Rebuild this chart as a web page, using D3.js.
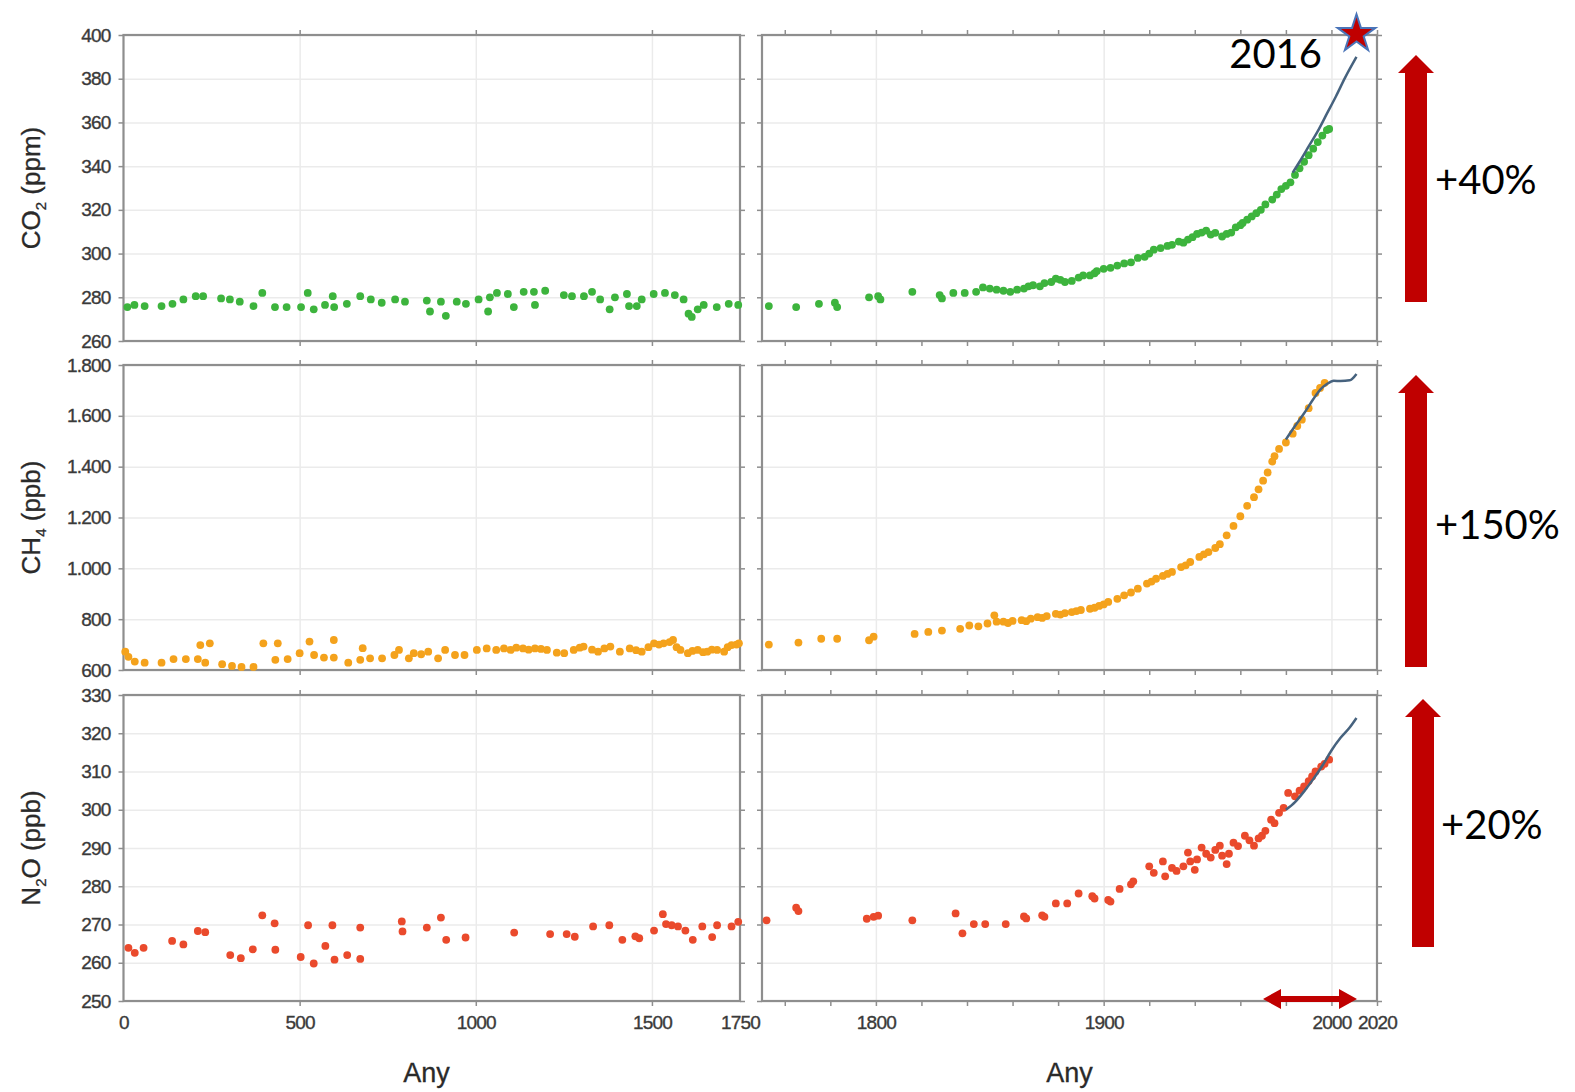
<!DOCTYPE html>
<html>
<head>
<meta charset="utf-8">
<script src="https://cdn.jsdelivr.net/npm/d3@7"></script>
<style>
  body { margin: 0; background: #fff; }
  svg text { font-family: "Liberation Sans", Arial, sans-serif; }
</style>
</head>
<body>
<div id="chart"></div>
<script>
// ---- data: [year, value] ----
var co2Old = [[11,275.5],[31,276.5],[60,276],[108,276],[139,277],[170,279],[205,280.5],[226,280.5],[277,279.5],[302,279],[330,278],[369,276],[394,282],[430,275.5],[463,275.5],[504,275.5],[523,282],[540,274.5],[572,276.5],[594,280.5],[598,275.5],[634,277],[672,280.5],[702,279],[733,277.5],[771,279],[799,278],[861,278.5],[870,273.5],[901,278],[915,271.5],[946,278],[972,277],[1008,279],[1035,273.5],[1040,280],[1060,282],[1091,281.5],[1108,275.5],[1136,282.5],[1165,282.5],[1168,276.5],[1197,283],[1250,281],[1273,280.5],[1307,280.5],[1330,282.5],[1353,279],[1380,274.5],[1395,280],[1429,281.5],[1435,276],[1457,276],[1471,279],[1505,281.5],[1537,282],[1565,281],[1590,279],[1604,272.5],[1613,271],[1630,274.5],[1647,276.5],[1684,275.5],[1718,277],[1745,276.5]];
var co2Ice = [[1753,276],[1765,275.5],[1775,277],[1782,277.5],[1783,275.5],[1797,280],[1801,280.5],[1802,279],[1816,282.5],[1828,281],[1829,279.5],[1834,282],[1839,282],[1844,282.5],[1847,284.5],[1850,284],[1853,283.5],[1856,283],[1859,282.5],[1862,283.5],[1865,284],[1867,285],[1869,285.5],[1872,285],[1874,286.5],[1877,287],[1879,288.5],[1881,288],[1883,287],[1886,287.5],[1889,289],[1891,290],[1894,290],[1896,291],[1897,292],[1900,293],[1903,293.5],[1906,294.5],[1909,295.5],[1912,296],[1915,298],[1918,298.5],[1920,300],[1922,301.8],[1925,302.5],[1928,303.5],[1930,304],[1933,305.5],[1935,305],[1937,306.4],[1939,307.5],[1941,309],[1943,309.6],[1945,310.5],[1947,308.7],[1949,309.5],[1952,307.8],[1954,309],[1956,309.6],[1958,312],[1960,313],[1961,314],[1963,315.5],[1965,317],[1967,318.5],[1969,320],[1971,322.5],[1974,324.7],[1976,327],[1978,329.5],[1980,331],[1982,332.6],[1984,336],[1986,339],[1988,342],[1990,345],[1992,348],[1994,351],[1996,354],[1998,356.5],[1999,357]];
var co2Inst = [[1983,337],[1986,342],[1990,349],[1994,356],[1998,364],[2002,372],[2006,380.5],[2011,390]];

var ch4Old = [[5,672],[14,652],[32,633],[60,629],[108,629],[142,643],[177,643],[211,643],[218,698],[232,629],[245,705],[280,623],[308,616],[335,612],[369,612],[397,705],[431,640],[438,705],[466,643],[500,666],[528,712],[541,659],[569,649],[597,718],[597,649],[638,629],[672,640],[679,686],[700,646],[734,646],[769,659],[782,679],[810,646],[824,666],[845,662],[865,672],[893,646],[913,679],[941,659],[968,659],[1003,679],[1031,685],[1058,679],[1080,685],[1099,679],[1115,688],[1134,685],[1150,680],[1168,685],[1185,683],[1202,679],[1230,668],[1251,666],[1278,679],[1295,688],[1306,692],[1330,680],[1347,672],[1365,685],[1382,692],[1409,672],[1437,685],[1455,678],[1471,672],[1490,690],[1506,705],[1520,700],[1533,705],[1550,710],[1560,718],[1570,690],[1581,679],[1602,666],[1615,675],[1630,679],[1645,670],[1657,672],[1670,680],[1685,679],[1705,672],[1715,690],[1726,698],[1740,700],[1747,705]];
var ch4Ice = [[1753,700],[1766,708],[1776,723],[1783,723],[1797,717],[1799,731],[1817,742],[1823,750],[1829,755],[1837,762],[1841,775],[1845,772],[1849,783],[1852,815],[1853,790],[1856,790],[1858,785],[1860,793],[1864,796],[1866,792],[1868,802],[1871,808],[1873,805],[1875,812],[1879,821],[1881,818],[1883,824],[1886,828],[1888,832],[1890,836],[1894,841],[1896,845],[1898,852],[1900,858],[1902,868],[1906,880],[1909,894],[1912,905],[1915,920],[1919,940],[1921,948],[1923,959],[1926,970],[1928,978],[1930,986],[1934,1005],[1936,1012],[1938,1025],[1942,1045],[1944,1055],[1946,1064],[1949,1080],[1951,1095],[1954,1130],[1957,1167],[1960,1205],[1963,1246],[1966,1280],[1968,1311],[1970,1345],[1972,1377],[1974,1420],[1975,1441],[1977,1470],[1980,1495],[1983,1530],[1985,1560],[1987,1585],[1990,1630],[1993,1690],[1995,1710],[1997,1730]];
var ch4Inst = [[1980,1507],[1984,1560],[1988,1610],[1992,1665],[1995,1702],[1998,1725],[2001,1738],[2004,1737],[2008,1740],[2011,1765]];

var n2oOld = [[14,263.9],[32,262.6],[57,263.9],[138,265.7],[170,264.8],[211,268.3],[232,268],[303,262],[333,261.2],[367,263.5],[394,272.4],[429,270.3],[431,263.4],[503,261.5],[524,269.8],[540,259.8],[573,264.4],[593,269.8],[599,260.8],[635,262],[672,269.2],[672,261],[790,270.8],[792,268.2],[861,269.2],[901,271.8],[916,266],[971,266.6],[1109,267.9],[1211,267.5],[1258,267.5],[1281,266.8],[1333,269.5],[1379,269.8],[1416,266],[1453,266.9],[1464,266.4],[1506,268.4],[1531,272.7],[1540,270.1],[1556,269.8],[1574,269.5],[1595,268.4],[1616,266],[1643,269.5],[1671,266.7],[1685,269.8],[1726,269.5],[1745,270.7]];
var n2oIce = [[1752,271.1],[1765,274.4],[1766,273.5],[1796,271.5],[1799,272],[1801,272.3],[1816,271.1],[1835,272.9],[1838,267.7],[1843,270.1],[1848,270.1],[1857,270.1],[1865,272.1],[1866,271.6],[1873,272.4],[1874,272],[1879,275.5],[1884,275.5],[1889,278.1],[1895,277.4],[1896,276.8],[1902,276.4],[1903,276],[1907,279.3],[1912,280.5],[1913,281.3],[1920,285.2],[1922,283.5],[1926,286.5],[1927,282.6],[1930,284.8],[1932,284],[1935,285.2],[1937,288.8],[1938,286.5],[1940,284.3],[1941,287],[1943,290.1],[1945,288.5],[1947,287.5],[1949,289.5],[1951,290.6],[1952,288],[1954,285.8],[1955,288.5],[1957,291.4],[1959,290.5],[1962,293.2],[1964,292],[1966,290.6],[1968,292.5],[1969.5,293.2],[1971,294.5],[1973.5,297.4],[1975,296.5],[1977,299.2],[1979,300.5],[1981,304.4],[1984,303.5],[1986,305],[1988,306.1],[1990,307.5],[1991.5,308.7],[1993,310],[1995.5,311.3],[1997,312],[1999,313.1]];
var n2oInst = [[1980,300],[1984,302],[1988,304.8],[1992,308],[1996,311.5],[2000,315.5],[2004,318.8],[2008,321.5],[2011,324]];

var co2Ticks = [260, 280, 300, 320, 340, 360, 380, 400];
var ch4Ticks = [600, 800, 1000, 1200, 1400, 1600, 1800];
var ch4TickLabels = ["600", "800", "1.000", "1.200", "1.400", "1.600", "1.800"];
var n2oTicks = [250, 260, 270, 280, 290, 300, 310, 320, 330];
var oldYearTicks = [0, 500, 1000, 1500, 1750];
var newYearTicks = [1800, 1900, 2000, 2020];
var newYearMinor = [1760, 1780, 1800, 1820, 1840, 1860, 1880, 1900, 1920, 1940, 1960, 1980, 2000, 2020];
var increaseLabels = ["+40%", "+150%", "+20%"];
var starPoint = [2011, 400];

var width = 1575, height = 1092;
var svg = d3.select("#chart").append("svg")
    .attr("width", width)
    .attr("height", height);

var xOld = d3.scaleLinear().domain([0, 1750]).range([123.5, 740]);
var xNew = d3.scaleLinear().domain([1750, 2020]).range([762, 1377]);

var rows = [
  { pre: "CO", sub: "2", unit: " (ppm)", old: co2Old, ice: co2Ice, inst: co2Inst,
    ticks: co2Ticks, labels: co2Ticks.map(String), domain: [260, 400], range: [341, 35], colour: "#3db43d" },
  { pre: "CH", sub: "4", unit: " (ppb)", old: ch4Old, ice: ch4Ice, inst: ch4Inst,
    ticks: ch4Ticks, labels: ch4TickLabels, domain: [600, 1800], range: [670, 365], colour: "#f4a21c" },
  { pre: "N", sub: "2", unit: "O (ppb)", old: n2oOld, ice: n2oIce, inst: n2oInst,
    ticks: n2oTicks, labels: n2oTicks.map(String), domain: [250, 330], range: [1001, 695], colour: "#ea4a2c" }
];

var gridColour = "#ebebeb", frameColour = "#8e8e8e", tickColour = "#8e8e8e", labelColour = "#3a3a3a";

function styleAxis(a, colour) {
  a.select(".domain").remove();
  a.selectAll("line").attr("stroke", colour).attr("stroke-width", 1.5);
}

function styleLabels(a) {
  a.select(".domain").remove();
  a.selectAll("text")
    .attr("fill", labelColour)
    .attr("stroke", labelColour)
    .attr("stroke-width", 0.35)
    .style("font-size", "19px")
    .style("font-family", "'Liberation Sans', Arial, sans-serif")
    .style("letter-spacing", "-0.8px");
}

rows.forEach(function(row, i) {
  var y = d3.scaleLinear().domain(row.domain).range(row.range);
  var yb = row.range[0], yt = row.range[1];

  var panels = [
    { x: xOld, data: row.old, grid: [500, 1000, 1500], marks: [500, 1000, 1500] },
    { x: xNew, data: row.ice, grid: [1800, 1900, 2000], marks: newYearMinor }
  ];

  panels.forEach(function(p, j) {
    var x0 = p.x.range()[0], x1 = p.x.range()[1];
    var g = svg.append("g").attr("class", "panel");

    // horizontal grid
    g.append("g")
      .attr("transform", "translate(" + x0 + ",0)")
      .call(d3.axisLeft(y).tickValues(row.ticks).tickSize(-(x1 - x0)).tickFormat(""))
      .call(styleAxis, gridColour);

    // vertical grid
    g.append("g")
      .attr("transform", "translate(0," + yb + ")")
      .call(d3.axisBottom(p.x).tickValues(p.grid).tickSize(-(yb - yt)).tickFormat(""))
      .call(styleAxis, gridColour);

    // tick marks on all four sides
    g.append("g").attr("transform", "translate(0," + yt + ")")
      .call(d3.axisTop(p.x).tickValues(p.marks).tickSize(5).tickFormat(""))
      .call(styleAxis, tickColour);
    g.append("g").attr("transform", "translate(0," + yb + ")")
      .call(d3.axisBottom(p.x).tickValues(p.marks).tickSize(5).tickFormat(""))
      .call(styleAxis, tickColour);
    g.append("g").attr("transform", "translate(" + x0 + ",0)")
      .call(d3.axisLeft(y).tickValues(row.ticks).tickSize(5).tickFormat(""))
      .call(styleAxis, tickColour);
    g.append("g").attr("transform", "translate(" + x1 + ",0)")
      .call(d3.axisRight(y).tickValues(row.ticks).tickSize(5).tickFormat(""))
      .call(styleAxis, tickColour);

    // frame
    g.append("rect")
      .attr("x", x0).attr("y", yt)
      .attr("width", x1 - x0).attr("height", yb - yt)
      .attr("fill", "none")
      .attr("stroke", frameColour)
      .attr("stroke-width", 2.2);

    // dots
    g.selectAll(".dot")
      .data(p.data)
      .enter()
      .append("circle")
      .attr("class", "dot")
      .attr("cx", function(d) { return p.x(d[0]); })
      .attr("cy", function(d) { return y(d[1]); })
      .attr("r", 3.9)
      .attr("fill", row.colour);

    if (j == 1) {
      var line = d3.line()
        .x(function(d) { return xNew(d[0]); })
        .y(function(d) { return y(d[1]); })
        .curve(d3.curveMonotoneX);
      g.append("path")
        .datum(row.inst)
        .attr("d", line)
        .attr("fill", "none")
        .attr("stroke", "#46627e")
        .attr("stroke-width", 2.5);
    }
  });

  // y tick labels on the left
  svg.append("g")
    .attr("transform", "translate(" + xOld.range()[0] + ",0)")
    .call(d3.axisLeft(y).tickValues(row.ticks).tickSize(0).tickPadding(13)
      .tickFormat(function(d, k) { return row.labels[k]; }))
    .call(styleLabels);

  // y title
  var cy = (yt + yb) / 2;
  var title = svg.append("text")
    .attr("transform", "translate(40," + cy + ") rotate(-90)")
    .attr("text-anchor", "middle")
    .attr("fill", "#2a2a2a")
    .attr("stroke", "#2a2a2a")
    .attr("stroke-width", 0.3)
    .style("font-size", "26px");
  title.append("tspan").text(row.pre);
  title.append("tspan").attr("dy", 6).style("font-size", "15px").text(row.sub);
  title.append("tspan").attr("dy", -6).text(row.unit);
});

// x tick labels under the bottom row
function yearLabels(scale, values) {
  svg.append("g")
    .attr("transform", "translate(0,1001)")
    .call(d3.axisBottom(scale).tickValues(values).tickSize(0).tickPadding(15).tickFormat(d3.format("d")))
    .call(styleLabels);
}
yearLabels(xOld, oldYearTicks);
yearLabels(xNew, newYearTicks);

svg.selectAll(".xtitle")
  .data([[xOld, 860], [xNew, 1885]])
  .enter()
  .append("text")
  .attr("class", "xtitle")
  .attr("x", function(d) { return d[0](d[1]); })
  .attr("y", 1082)
  .attr("text-anchor", "middle")
  .attr("fill", "#2a2a2a")
  .attr("stroke", "#2a2a2a")
  .attr("stroke-width", 0.3)
  .style("font-size", "27px")
  .text("Any");

// ---- annotations ----
var red = "#c00000";

function upArrow(cx, top, bottom) {
  var hw = 18, sw = 11, hh = 18;
  var path = "M" + cx + "," + top +
    " L" + (cx + hw) + "," + (top + hh) +
    " L" + (cx + sw) + "," + (top + hh) +
    " L" + (cx + sw) + "," + bottom +
    " L" + (cx - sw) + "," + bottom +
    " L" + (cx - sw) + "," + (top + hh) +
    " L" + (cx - hw) + "," + (top + hh) + " Z";
  svg.append("path").attr("d", path).attr("fill", red);
}

var arrows = [
  { cx: 1416, top: 55, bottom: 302, tx: 1435, ty: 194 },
  { cx: 1416, top: 375, bottom: 667, tx: 1435, ty: 539 },
  { cx: 1423, top: 699, bottom: 947, tx: 1441, ty: 839 }
];
arrows.forEach(function(a, i) {
  upArrow(a.cx, a.top, a.bottom);
  svg.append("text")
    .attr("x", a.tx).attr("y", a.ty)
    .attr("fill", "#000")
    .style("font-family", "Lato, 'Open Sans', sans-serif")
    .style("font-size", "40px")
    .text(increaseLabels[i]);
});

// double-headed arrow on the time axis
var dl = 1263, dr = 1357, dy = 999, hl = 18, hh = 10, sh = 3;
svg.append("path")
  .attr("d", "M" + dl + "," + dy + " L" + (dl + hl) + "," + (dy - hh) + " L" + (dl + hl) + "," + (dy - sh) +
    " L" + (dr - hl) + "," + (dy - sh) + " L" + (dr - hl) + "," + (dy - hh) + " L" + dr + "," + dy +
    " L" + (dr - hl) + "," + (dy + hh) + " L" + (dr - hl) + "," + (dy + sh) +
    " L" + (dl + hl) + "," + (dy + sh) + " L" + (dl + hl) + "," + (dy + hh) + " Z")
  .attr("fill", red);

// 2016 star
var yCO2 = d3.scaleLinear().domain(rows[0].domain).range(rows[0].range);
svg.append("path")
  .attr("d", d3.symbol(d3.symbolStar).size(440)())
  .attr("transform", "translate(" + xNew(starPoint[0]) + "," + (yCO2(starPoint[1]) - 1) + ")")
  .attr("fill", red)
  .attr("stroke", "#4a74b8")
  .attr("stroke-width", 2);

svg.append("text")
  .attr("x", 1322).attr("y", 68)
  .attr("text-anchor", "end")
  .attr("fill", "#000")
  .style("font-family", "Lato, 'Open Sans', sans-serif")
  .style("font-size", "40px")
  .text("2016");
</script>
</body>
</html>
